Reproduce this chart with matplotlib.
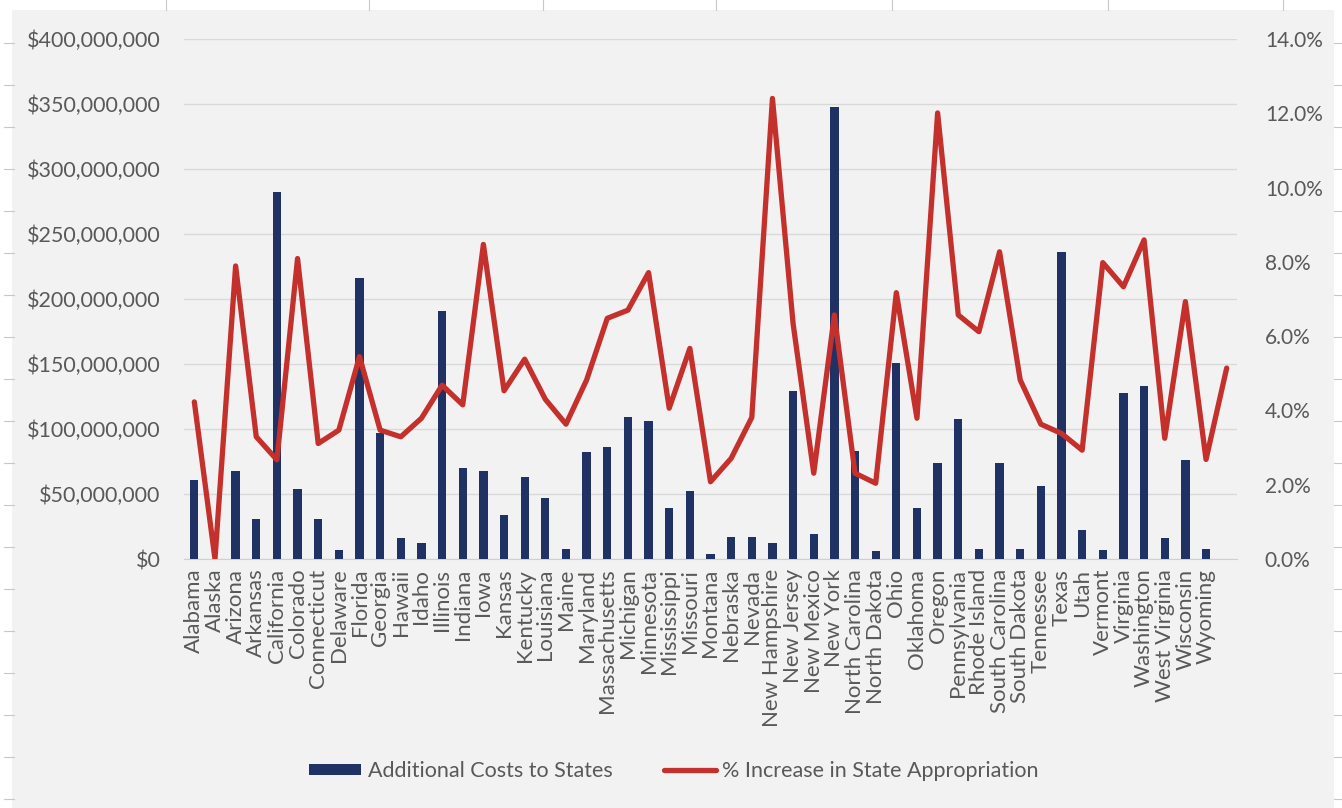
import matplotlib
matplotlib.use("Agg")
import matplotlib.pyplot as plt
from matplotlib.patches import Rectangle, Patch
from matplotlib.lines import Line2D
from matplotlib.ticker import FuncFormatter, MultipleLocator

# data (last category has no label)
states = [
    "Alabama", "Alaska", "Arizona", "Arkansas", "California", "Colorado",
    "Connecticut", "Delaware", "Florida", "Georgia", "Hawaii", "Idaho",
    "Illinois", "Indiana", "Iowa", "Kansas", "Kentucky", "Louisiana", "Maine",
    "Maryland", "Massachusetts", "Michigan", "Minnesota", "Mississippi",
    "Missouri", "Montana", "Nebraska", "Nevada", "New Hampshire", "New Jersey",
    "New Mexico", "New York", "North Carolina", "North Dakota", "Ohio",
    "Oklahoma", "Oregon", "Pennsylvania", "Rhode Island", "South Carolina",
    "South Dakota", "Tennessee", "Texas", "Utah", "Vermont", "Virginia",
    "Washington", "West Virginia", "Wisconsin", "Wyoming", "",
]

# additional costs, millions of dollars
costs_m = [
    61, 0, 68, 31, 282, 54, 31, 7, 216, 97, 16, 12.5, 191, 70, 68, 34, 63, 47, 8,
    82, 86, 109, 106, 39, 52.5, 4, 17, 17, 12.5, 129, 19, 348, 83, 6.5, 151,
    39, 74, 108, 8, 74, 8, 56, 236, 22, 7, 128, 133, 16, 76, 8, 0,
]

# % increase in state appropriation
pct_increase = [
    4.23, 0.0, 7.89, 3.29, 2.67, 8.09, 3.11, 3.47, 5.45, 3.47, 3.29, 3.79,
    4.68, 4.15, 8.47, 4.53, 5.38, 4.30, 3.63, 4.82, 6.48, 6.70, 7.71, 4.06,
    5.67, 2.08, 2.71, 3.81, 12.40, 6.34, 2.31, 6.57, 2.31, 2.04, 7.17, 3.79,
    12.01, 6.57, 6.12, 8.27, 4.82, 3.63, 3.38, 2.93, 7.98, 7.33, 8.59, 3.25,
    6.93, 2.68, 5.14,
]

W, H = 1342, 808
BLUE = "#1f3263"
RED = "#c4302b"
TXT = "#595959"
BG = "#f2f2f2"

plt.rcParams["font.family"] = ["Lato", "DejaVu Sans"]

fig = plt.figure(figsize=(W / 100, H / 100), dpi=100, facecolor="white")

# chart area background and the spreadsheet cell marks around it
fig.patches.append(Rectangle((12 / W, 0), (1334 - 12) / W, (H - 10) / H,
                             transform=fig.transFigure, facecolor=BG,
                             edgecolor="none", zorder=-5))
for x in [166, 369, 543, 716, 892, 1108, 1283]:
    fig.lines.append(Line2D([x / W, x / W], [1, 1 - 10 / H], transform=fig.transFigure,
                            color="#c8c8c8", lw=0.8, zorder=-4))
for k in range(19):
    y = 1 - (43 + 42 * k) / H
    fig.lines.append(Line2D([4 / W, 14 / W], [y, y], transform=fig.transFigure,
                            color="#c8c8c8", lw=0.8, zorder=-4))
    fig.lines.append(Line2D([1334 / W, 1342 / W], [y, y], transform=fig.transFigure,
                            color="#c8c8c8", lw=0.8, zorder=-4))

ax = fig.add_axes([184 / W, 1 - 559 / H, (1237 - 184) / W, (559 - 39) / H])
ax.set_facecolor("none")
x = list(range(len(states)))

ax.bar(x, [c * 1e6 for c in costs_m], width=0.4, color=BLUE, zorder=3)
ax.set_xlim(-0.5, len(states) - 0.5)
ax.set_ylim(0, 400e6)
ax.yaxis.set_major_locator(MultipleLocator(50e6))
ax.yaxis.set_major_formatter(FuncFormatter(lambda v, p: f"${v:,.0f}"))
ax.grid(axis="y", color="#d9d9d9", lw=1, zorder=0)
ax.set_axisbelow(True)
for s in ["top", "right", "left"]:
    ax.spines[s].set_visible(False)
ax.spines["bottom"].set_color("#d0d0d0")
ax.spines["bottom"].set_zorder(1)
ax.set_xticks(x)
ax.set_xticklabels(states, rotation=90, fontsize=16, color=TXT)
ax.tick_params(axis="x", length=0, pad=7)
ax.tick_params(axis="y", length=0, pad=17, labelsize=15.5, labelcolor=TXT)

ax2 = ax.twinx()
ax2.plot(x, pct_increase, color=RED, lw=3.8, solid_joinstyle="round",
         solid_capstyle="round", zorder=4)
ax2.set_ylim(0, 14)
ax2.yaxis.set_major_locator(MultipleLocator(2))
ax2.yaxis.set_major_formatter(FuncFormatter(lambda v, p: f"{v:.1f}%"))
ax2.tick_params(axis="y", length=0, pad=20, labelsize=15, labelcolor=TXT)
for s in ax2.spines.values():
    s.set_visible(False)

handles = [
    Patch(facecolor=BLUE, edgecolor="none"),
    Line2D([0], [0], color=RED, lw=3.8, solid_capstyle="round"),
]
fig.legend(handles, ["Additional Costs to States", "% Increase in State Appropriation"],
           loc="center", bbox_to_anchor=(674 / W, 1 - 771 / H), ncol=2, frameon=False,
           fontsize=15.5, labelcolor=TXT, handlelength=2.4, handleheight=0.45,
           handletextpad=0.3, columnspacing=2.4)

fig.savefig("out.png", dpi=100, facecolor="white")
